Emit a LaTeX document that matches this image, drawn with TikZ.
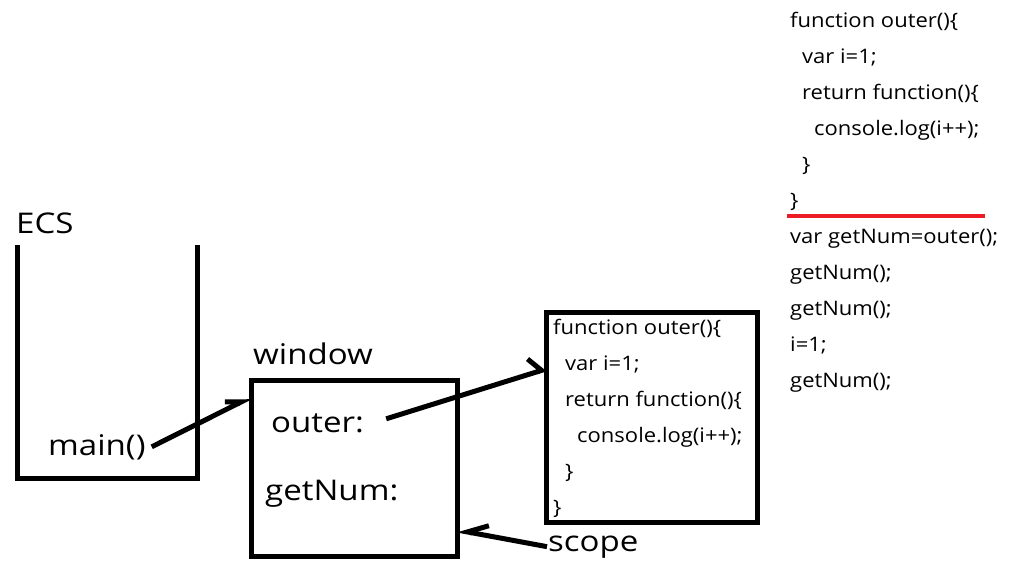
\documentclass[tikz,border=0pt]{standalone}
\usepackage{fontspec}
\setmainfont{Open Sans}[FakeStretch=1.1]
\newfontfamily\labelfont{Open Sans}[FakeStretch=1.16]
\usetikzlibrary{arrows.meta,positioning,calc}
\definecolor{penred}{RGB}{237,28,36}
\tikzset{
    big/.style={font=\labelfont\fontsize{28.5}{30}\selectfont,inner sep=0pt,anchor=base west},
    code/.style={font=\fontsize{20}{24}\selectfont,inner sep=0pt,anchor=base west},
    frame/.style={draw=black,line width=5pt,inner sep=0pt,outer sep=0pt},
    pen/.style={line width=5pt}
}
\newcommand\codeblock[4]{%
    \foreach [count=\k] \ind/\txt in {#4}
        \node[code] (#1\k) at ({#2+\ind},{#3+36*(\k-1)}) {\txt};
}

\begin{document}
\begin{tikzpicture}[x=1pt,y=-1pt]
    \useasboundingbox (0,0) rectangle (1018,574);
    \draw[pen] (17,245) -- (17,478) -- (197,478) -- (197,245);
    \node[big] (ecs) at (16,233) {ECS};
    \node[big] (main) at (48,455) {main()};
    \node[frame,minimum width=206pt,minimum height=176pt] (win) at (354,468) {};
    \node[big] (wname) at (253,364) {window};
    \node[big] (outer) at (271,432) {outer:};
    \node[big] (getnum) at (265,500) {getNum:};
    \node[frame,minimum width=211pt,minimum height=210pt] (src) at (651.5,417) {};
    \node[big] (scope) at (548,551) {scope};
    \codeblock{srcline}{553}{334}{0/{function outer()\{},12/{var i=1;},12/{return function()\{},24/{console.log(i++);},12/\},0/\}}
    \codeblock{ref}{790}{27}{0/{function outer()\{},12/{var i=1;},12/{return function()\{},24/{console.log(i++);},12/\},0/\},0/{var getNum=outer();},0/{getNum();},0/{getNum();},0/{i=1;},0/{getNum();}}
    \draw[penred,line width=4pt] (787,216) -- (985,216);
    \draw[pen,-{Straight Barb[left,length=15pt,width=15pt]}] ([xshift=6pt]main.east) -- ($(win.north west)+(0,17)$);
    \draw[pen,-{Straight Barb[left,length=10pt,width=30pt]}] ([xshift=22pt,yshift=4pt]outer.east) -- ($(src.north west)+(0,57)$);
    \draw[pen,-{Straight Barb[right,length=20pt,width=20pt]}] ([xshift=-1pt]scope.west) -- ($(win.south east)+(0,-26)$);
\end{tikzpicture}
\end{document}
